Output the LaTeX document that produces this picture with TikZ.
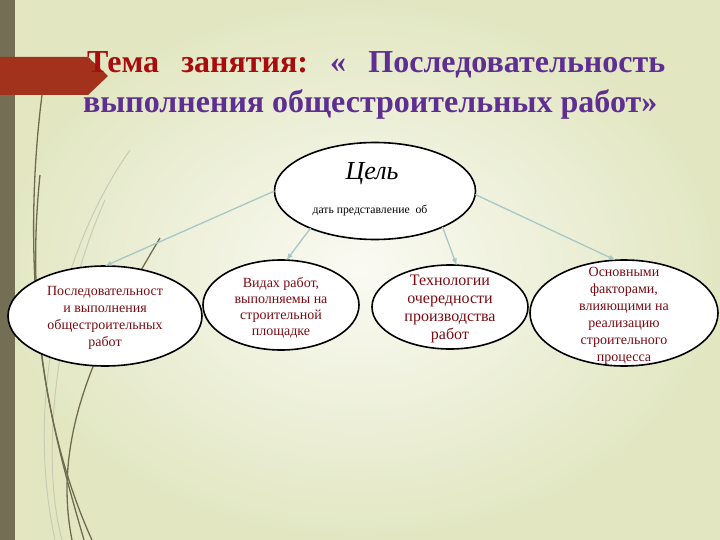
\documentclass[tikz,border=0pt]{standalone}
\usepackage{fontspec}
\setmainfont{Liberation Serif}
\usetikzlibrary{shapes.geometric}
\definecolor{stripcol}{HTML}{746E55}
\definecolor{bannercol}{HTML}{A2321B}
\definecolor{grasscol}{HTML}{6F6B4F}
\definecolor{paleline}{HTML}{C9CCB2}
\definecolor{arrowcol}{HTML}{A6C8C6}
\definecolor{titlered}{HTML}{A80C0C}
\definecolor{titlepurple}{HTML}{5E2E92}
\definecolor{ovaltext}{HTML}{7A0B12}
\definecolor{bgmid}{HTML}{FAFAF3}
\definecolor{bgedge}{HTML}{E2E7C2}
\frenchspacing

\begin{document}
\begin{tikzpicture}[x=1pt, y=-1pt, >=latex]
				\tikzstyle{every node}=[align=center, inner sep=1pt]
				\tikzstyle{oval}=[ellipse, draw=black, line width=1.6pt, fill=white, outer sep=0pt]
				\tikzstyle{ovaltxt}=[text=ovaltext, font=\fontsize{14}{17}\selectfont]
				\tikzstyle{grass}=[draw=grasscol, line width=1.3pt]
				\tikzstyle{pale}=[draw=paleline, line width=1pt]
				\tikzstyle{link}=[draw=arrowcol, line width=1.3pt]

				\useasboundingbox (0,0) rectangle (720,540);
				\shade[inner color=bgmid, outer color=bgedge] (0,0) rectangle (720,540);
				\fill[stripcol] (0,0) rectangle (15,540);

				\draw[pale] (130,150) .. controls (60,250) and (25,400) .. (55,540);
				\draw[pale] (105,200) .. controls (60,300) and (38,450) .. (62,540);
				\draw[grass] (42,95) .. controls (26,220) and (28,400) .. (92,540);
				\draw[grass] (40,175) .. controls (24,330) and (55,440) .. (84,540);
				\draw[grass] (160,238) .. controls (105,330) and (50,430) .. (72,540);

				\fill[bannercol] (0,57) -- (88,57) -- (108,76) -- (88,95) -- (0,95) -- cycle;

				\node[anchor=base west, inner sep=0pt, font=\fontsize{32}{40}\bfseries] (Title1) at (87,73)
					{\makebox[578pt][s]{\textcolor{titlered}{Тема занятия:} \textcolor{titlepurple}{« Последовательность}}};
				\node[anchor=base west, inner sep=0pt, font=\fontsize{32}{40}\bfseries, text=titlepurple] (Title2) at (83,113)
					{выполнения общестроительных работ»};

				\node[oval, minimum width=201pt, minimum height=97pt] (C) at (375,191) {};
				\node[font=\fontsize{26}{28}\itshape] (Goal) at (372,174) {Цель};
				\node[font=\fontsize{11.7}{13}\selectfont] (GoalSub) at (370,211) {дать представление\ \ об};

				\node[oval, minimum width=194pt, minimum height=100pt] (E1) at (105,316) {};
				\node[oval, minimum width=156pt, minimum height=90pt] (E2) at (281,305) {};
				\node[oval, minimum width=156pt, minimum height=84pt] (E3) at (450,307) {};
				\node[oval, minimum width=188pt, minimum height=106pt] (E4) at (624,313) {};

				\node[ovaltxt] (T1) at (105,318) {Последовательност\\и выполнения\\общестроительных\\работ};
				\node[ovaltxt, font=\fontsize{14}{16}\selectfont] (T2) at (281,308) {Видах работ,\\выполняемы на\\строительной\\площадке};
				\node[ovaltxt, font=\fontsize{16}{18.3}\selectfont] (T3) at (450,309) {Технологии\\очередности\\производства\\работ};
				\node[ovaltxt] (T4) at (624,316) {Основными\\факторами,\\влияющими на\\реализацию\\строительного\\процесса};

				\draw[link, ->] (C.180) to (E1.90);
				\draw[link, ->] (C.210) to (E2.83);
				\draw[link, ->] (C.332) to (E3.81);
				\draw[link, ->] (C.358) to (E4.99);

			\end{tikzpicture}
\end{document}
